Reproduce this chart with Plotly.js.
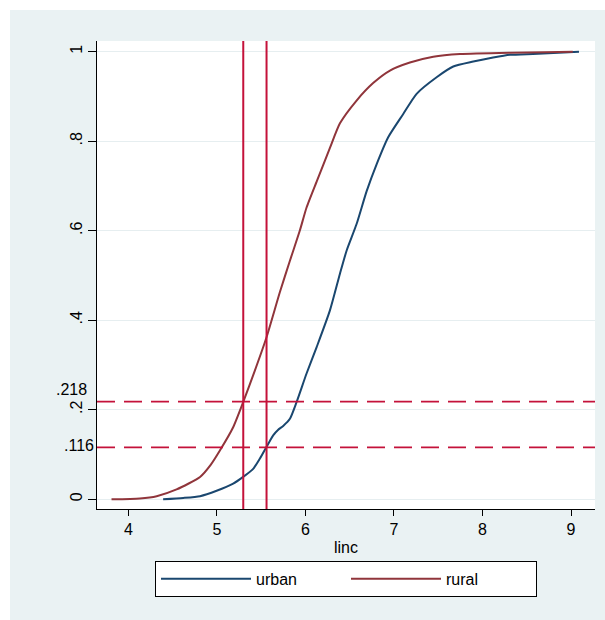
<!DOCTYPE html>
<html>
<head>
<meta charset="utf-8">
<script src="https://cdn.plot.ly/plotly-3.0.1.min.js"></script>
<style>
html,body{margin:0;padding:0;background:#ffffff;}
#chart{position:absolute;left:10px;top:10px;width:595px;height:610px;}
</style>
</head>
<body>
<div id="chart"></div>
<script>
// Data
var urbanX = [4.393, 4.62, 4.81, 4.997, 5.184, 5.297, 5.41, 5.486, 5.56, 5.60, 5.636, 5.69, 5.749, 5.825, 5.90, 6.013, 6.127, 6.277, 6.39, 6.466, 6.578, 6.691, 6.805, 6.935, 7.105, 7.256, 7.482, 7.67, 7.896, 8.12, 8.31, 8.57, 8.8, 9.09];
var urbanY = [0, 0.003, 0.007, 0.019, 0.035, 0.050, 0.068, 0.091, 0.117, 0.131, 0.143, 0.155, 0.164, 0.180, 0.217, 0.281, 0.340, 0.422, 0.504, 0.556, 0.615, 0.688, 0.749, 0.809, 0.861, 0.906, 0.943, 0.967, 0.978, 0.987, 0.993, 0.995, 0.997, 1];
var ruralX = [3.81, 4.13, 4.32, 4.545, 4.81, 4.93, 5.034, 5.184, 5.297, 5.43, 5.561, 5.712, 5.825, 5.938, 6.013, 6.127, 6.277, 6.39, 6.578, 6.765, 6.955, 7.18, 7.444, 7.746, 8.31, 8.7, 9.02];
var ruralY = [0, 0.002, 0.007, 0.022, 0.050, 0.077, 0.109, 0.161, 0.217, 0.288, 0.362, 0.463, 0.533, 0.601, 0.652, 0.710, 0.785, 0.840, 0.891, 0.930, 0.958, 0.976, 0.989, 0.995, 0.998, 0.999, 1];
var vLines = [5.298, 5.561];
var hLines = [0.218, 0.116];
var hLabels = [".218", ".116"];
var xTicks = [4, 5, 6, 7, 8, 9];
var xTickText = ["4", "5", "6", "7", "8", "9"];
var yTicks = [0, 0.2, 0.4, 0.6, 0.8, 1];
var yTickText = ["0", ".2", ".4", ".6", ".8", "1"];

var refColor = "#c4123a";
var font = "Liberation Sans, Arial, sans-serif";

var traces = [
  {x: urbanX, y: urbanY, type: "scatter", mode: "lines", name: "urban",
   line: {color: "#1a476f", width: 2, shape: "spline", smoothing: 0.6}},
  {x: ruralX, y: ruralY, type: "scatter", mode: "lines", name: "rural",
   line: {color: "#90353b", width: 2, shape: "spline", smoothing: 0.6}}
];

var shapes = [];
vLines.forEach(function (v) {
  shapes.push({type: "line", xref: "x", yref: "paper", x0: v, x1: v, y0: 0, y1: 1,
    line: {color: refColor, width: 2}, layer: "above"});
});
hLines.forEach(function (h) {
  shapes.push({type: "line", xref: "paper", yref: "y", x0: 0, x1: 1, y0: h, y1: h,
    line: {color: refColor, width: 1.8, dash: "18px,9px"}, layer: "above"});
});

var labelShiftX = [-8, -1];
var labelShiftY = [12, 2];
var annotations = hLines.map(function (h, i) {
  return {xref: "paper", yref: "y", x: 0, y: h, text: hLabels[i], showarrow: false,
    xanchor: "right", yanchor: "middle", xshift: labelShiftX[i], yshift: labelShiftY[i],
    font: {family: font, size: 16, color: "#000"}};
});

var layout = {
  width: 595, height: 610,
  margin: {l: 87, r: 10, t: 31, b: 111},
  paper_bgcolor: "#eaf2f3",
  plot_bgcolor: "#ffffff",
  font: {family: font, size: 16, color: "#000"},
  showlegend: true,
  xaxis: {
    range: [3.646, 9.271], tickvals: xTicks, ticktext: xTickText,
    showgrid: false, zeroline: false, showline: true, linecolor: "#000", linewidth: 1,
    ticks: "outside", ticklen: 6, tickcolor: "#000", tickwidth: 1,
    tickfont: {family: font, size: 16, color: "#000"},
    title: {text: "linc", font: {family: font, size: 16, color: "#000"}, standoff: 4},
    automargin: false
  },
  yaxis: {
    range: [-0.0217, 1.024], tickvals: yTicks, ticktext: yTickText, tickangle: -90,
    showgrid: true, gridcolor: "#e6eef0", gridwidth: 1, zeroline: false,
    showline: true, linecolor: "#000", linewidth: 1,
    ticks: "outside", ticklen: 8, tickcolor: "#000", tickwidth: 1,
    tickfont: {family: font, size: 16, color: "#000"},
    automargin: false
  },
  legend: {
    orientation: "h", x: 0.5, xanchor: "center", y: -0.111, yanchor: "top",
    bgcolor: "#ffffff", bordercolor: "#000", borderwidth: 1,
    font: {family: font, size: 16, color: "#000"},
    itemwidth: 90, entrywidth: 85, entrywidthmode: "pixels"
  },
  shapes: shapes,
  annotations: annotations
};

Plotly.newPlot("chart", traces, layout, {staticPlot: true, displayModeBar: false});
</script>
</body>
</html>
